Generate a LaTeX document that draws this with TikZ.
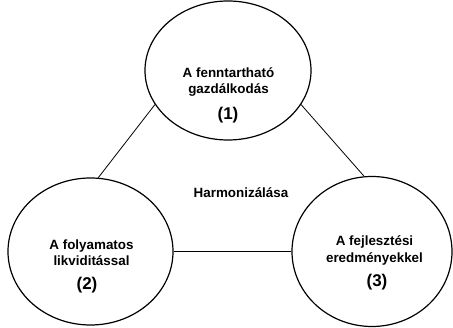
\documentclass[tikz,border=0pt]{standalone}
\usepackage{fontspec}
\setmainfont{Liberation Sans}
\usetikzlibrary{shapes.geometric}
\begin{document}
\begin{tikzpicture}[x=1pt,y=-1pt,
  circ/.style={draw, ellipse, line width=1.2pt, inner sep=0pt},
  conn/.style={draw, line width=0.8pt},
  txt/.style={anchor=base, inner sep=0pt, font=\fontsize{13.4}{16}\selectfont\bfseries},
  num/.style={anchor=base, inner sep=0pt, font=\fontsize{17}{18}\selectfont\bfseries}]
\useasboundingbox (0,0) rectangle (453,328);
\node[circ, minimum width=166pt, minimum height=139pt] (top) at (228,70.5) {};
\node[circ, minimum width=165pt, minimum height=147pt] (left) at (90.5,251.5) {};
\node[circ, minimum width=160pt, minimum height=150pt] (right) at (372,251.5) {};
\draw[conn] (top.205) -- (left.84);
\draw[conn] (top.335) -- (right.96);
\draw[conn] (left.east) -- (right.west);
\node[txt] (t1a) at (228.5,78) {A fenntartható};
\node[txt] (t1b) at (228.5,94) {gazdálkodás};
\node[num] (t1c) at (228,120) {(1)};
\node[txt] (t2a) at (91.5,250) {A folyamatos};
\node[txt] (t2b) at (91.5,266) {likviditással};
\node[num] (t2c) at (87,290) {(2)};
\node[txt] (t3a) at (374.5,246) {A fejlesztési};
\node[txt] (t3b) at (374.5,263) {eredményekkel};
\node[num] (t3c) at (377,287) {(3)};
\node[txt] (h) at (241,198) {Harmonizálása};
\end{tikzpicture}
\end{document}
